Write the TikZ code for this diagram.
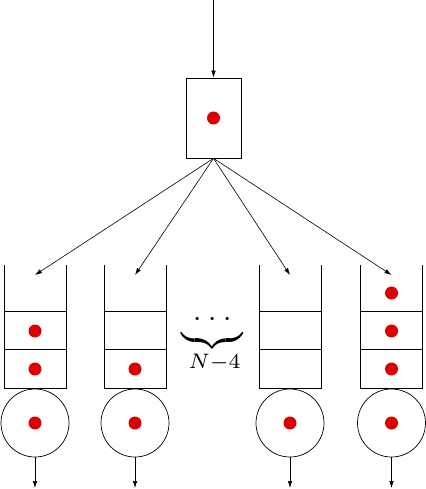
\documentclass[tikz,border=0pt]{standalone}
\usetikzlibrary{arrows.meta}
\definecolor{dotred}{RGB}{221,0,0}
\begin{document}
\begin{tikzpicture}[x=1pt,y=-1pt,line width=0.7pt,
  arr/.style={-{Latex[length=7pt,width=4.5pt]},line width=0.6pt},
  rdot/.style={circle,fill=dotred,draw=none,inner sep=0pt,minimum size=13pt},
  srcbox/.style={draw,rectangle,minimum width=55pt,minimum height=80pt,inner sep=0pt},
  server/.style={draw,circle,minimum size=68pt,inner sep=0pt},
  slotbox/.style={rectangle,minimum width=61pt,minimum height=38pt,inner sep=0pt},
  bare/.style={inner sep=0pt,outer sep=0pt}]
\useasboundingbox (0,0) rectangle (425,489);
% source
\node[srcbox] (src) at (213.5,118) {};
\node[rdot] (srcdot) at (src.center) {};
\coordinate (in) at (213.5,0);
\draw[arr] (in) -- (src.north);
% queues
\foreach \i/\cx in {1/35,2/135,3/290,4/391.5}{
  \node[slotbox] (q\i a) at (\cx,293) {};
  \node[slotbox] (q\i b) at (\cx,331) {};
  \node[slotbox] (q\i c) at (\cx,369) {};
  \coordinate (q\i top) at (\cx,275);
  \draw ([yshift=9pt]q\i a.north west) -- (q\i c.south west) -- (q\i c.south east) -- ([yshift=9pt]q\i a.north east);
  \draw (q\i b.north west) -- (q\i b.north east);
  \draw (q\i c.north west) -- (q\i c.north east);
  \node[server] (s\i) at (\cx,423) {};
  \node[rdot] (s\i dot) at (s\i.center) {};
  \coordinate (out\i) at (\cx,488);
  \draw[arr] (s\i.south) -- (out\i);
  \draw[arr] (src.south) -- (q\i top);
}
% packets waiting
\node[rdot] (p1) at (q1b.center) {};
\node[rdot] (p2) at (q1c.center) {};
\node[rdot] (p3) at (q2c.center) {};
\node[rdot] (p4) at (q4a.center) {};
\node[rdot] (p5) at (q4b.center) {};
\node[rdot] (p6) at (q4c.center) {};
% omitted queues
\node[bare] (gapdots) at (212.3,318.7) {\scalebox{3}{\raisebox{-2.5pt}[0.7pt][0.7pt]{${\cdot}\mkern4mu{\cdot}\mkern4mu{\cdot}$}}};
\node[bare,anchor=south] (gapbrace) at (212.4,342) {\scalebox{3}{\hbox to 20.5pt{\upbracefill}}};
\node[bare,anchor=base] (gaplabel) at (214.6,368.7) {\scalebox{3}{$\scriptstyle N-4$}};
\end{tikzpicture}
\end{document}
